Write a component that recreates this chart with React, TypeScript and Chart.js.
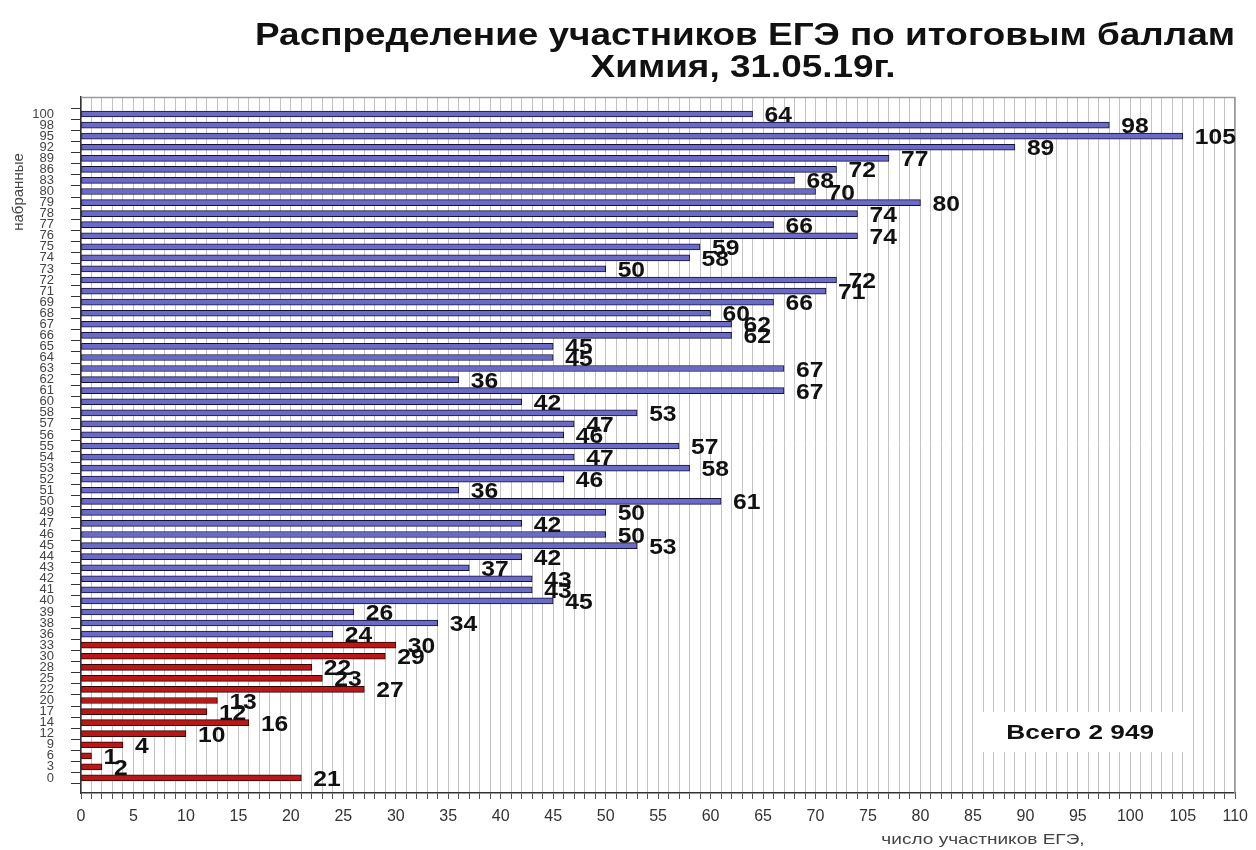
import React, { useEffect, useRef } from 'react';
import { Chart, registerables } from 'chart.js';

Chart.register(...registerables);

const titleLines = ['Распределение участников ЕГЭ по итоговым баллам', 'Химия, 31.05.19г.'];
const yAxisTitle = 'набранные';
const xAxisTitle = 'число участников ЕГЭ,';
const totalLabel = 'Всего';

// test scores, top to bottom
const scores = [
  100, 98, 95, 92, 89, 86, 83, 80, 79, 78, 77, 76, 75, 74, 73, 72, 71,
  69, 68, 67, 66, 65, 64, 63, 62, 61, 60,
  58, 57, 56, 55, 54, 53, 52, 51, 50, 49,
  47, 46, 45, 44, 43, 42, 41, 40, 39, 38, 36,
  33, 30, 28, 25, 22, 20, 17, 14, 12, 9, 6, 3, 0,
];

// number of participants per score, top to bottom
const counts = [
  64, 98, 105, 89, 77, 72, 68, 70, 80, 74, 66, 74, 59, 58, 50, 72, 71,
  66, 60, 62, 62, 45, 45, 67, 36, 67, 42,
  53, 47, 46, 57, 47, 58, 46, 36, 61, 50,
  42, 50, 53, 42, 37, 43, 43, 45, 26, 34, 24,
  30, 29, 22, 23, 27, 13, 12, 16, 10, 4, 1, 2, 21,
];

const passingScore = 36;
const xMin = 0;
const xMax = 110;
const xLabelStep = 5;

const FONT = "'Liberation Sans', Arial, Helvetica, sans-serif";

function stretchedText(ctx: any, text: string, x: number, y: number, sx: number) {
  ctx.save();
  ctx.translate(x, y);
  ctx.scale(sx, 1);
  ctx.fillText(text, 0, 0);
  ctx.restore();
}

export default function App() {
  const ref = useRef<HTMLCanvasElement>(null);

  useEffect(() => {
    const canvas = ref.current;
    if (!canvas) return;
    const total = counts.reduce((a, b) => a + b, 0);
    const totalText = `${totalLabel} ${String(total).replace(/\B(?=(\d{3})+(?!\d))/g, ' ')}`;

    const decor = {
      id: 'decor',
      beforeDatasetsDraw(chart: any) {
        const { ctx, chartArea: a } = chart;
        ctx.save();
        ctx.strokeStyle = '#9a9a9a';
        ctx.lineWidth = 1.5;
        ctx.beginPath();
        ctx.moveTo(a.left, a.top + 0.5);
        ctx.lineTo(a.right - 0.5, a.top + 0.5);
        ctx.lineTo(a.right - 0.5, a.bottom);
        ctx.stroke();
        ctx.restore();
      },
      afterDatasetsDraw(chart: any) {
        const { ctx, chartArea: a } = chart;
        const meta = chart.getDatasetMeta(0);
        ctx.save();
        ctx.font = `bold 22px ${FONT}`;
        ctx.fillStyle = '#111';
        ctx.textBaseline = 'middle';
        ctx.textAlign = 'left';
        meta.data.forEach((el: any, i: number) => {
          stretchedText(ctx, String(counts[i]), el.x + 12, el.y + 2, 1.12);
        });
        // total box
        const bx = a.right - 262;
        const by = a.bottom - 81;
        ctx.fillStyle = '#ffffff';
        ctx.fillRect(bx, by, 214, 40);
        ctx.fillStyle = '#111';
        ctx.font = `bold 21px ${FONT}`;
        ctx.textAlign = 'center';
        stretchedText(ctx, totalText, bx + 107, by + 21, 1.25);
        ctx.restore();
      },
      afterDraw(chart: any) {
        const { ctx } = chart;
        ctx.save();
        ctx.fillStyle = '#111';
        ctx.textAlign = 'center';
        ctx.textBaseline = 'middle';
        ctx.font = `bold 31px ${FONT}`;
        stretchedText(ctx, titleLines[0], 745, 36, 1.19);
        stretchedText(ctx, titleLines[1], 743, 68, 1.19);

        ctx.font = `15px ${FONT}`;
        ctx.fillStyle = '#444';
        stretchedText(ctx, xAxisTitle, 983, 840, 1.27);

        ctx.translate(19, 192);
        ctx.rotate(-Math.PI / 2);
        ctx.fillText(yAxisTitle, 0, 0);
        ctx.restore();
      },
    };

    const chart = new Chart(canvas, {
      type: 'bar',
      data: {
        datasets: [
          {
            data: counts.map((c, i) => ({ x: c, y: i })) as any,
            backgroundColor: scores.map((s) => (s < passingScore ? '#b81818' : '#6b6bc6')),
            borderColor: scores.map((s) => (s < passingScore ? '#350000' : '#10103a')),
            borderWidth: 1,
            borderSkipped: false,
            barThickness: 6,
          },
        ],
      },
      options: {
        indexAxis: 'y',
        responsive: false,
        animation: false,
        layout: { padding: { top: 97, right: 16, bottom: 24, left: 0 } },
        plugins: {
          legend: { display: false },
          tooltip: { enabled: false },
          title: { display: false },
        },
        scales: {
          x: {
            type: 'linear',
            min: xMin,
            max: xMax,
            offset: false,
            afterBuildTicks: (axis: any) => {
              const t = [];
              for (let v = xMin; v <= xMax; v++) t.push({ value: v });
              axis.ticks = t;
            },
            afterFit: (axis: any) => {
              axis.height = 33;
            },
            grid: {
              color: '#c4c4c4',
              lineWidth: 1,
              drawTicks: true,
              tickLength: 6,
              tickColor: '#555',
              offset: false,
            },
            border: { color: '#333', width: 1.5 },
            ticks: {
              autoSkip: false,
              maxRotation: 0,
              minRotation: 0,
              padding: 8,
              color: '#333',
              font: { size: 16, family: FONT },
              callback: (v: any) => (Number(v) % xLabelStep === 0 ? String(v) : ''),
            },
          },
          y: {
            type: 'linear',
            reverse: true,
            offset: false,
            min: -1.54,
            max: scores.length - 1 + 1.36,
            afterBuildTicks: (axis: any) => {
              axis.ticks = scores.map((_, i) => ({ value: i }));
            },
            afterFit: (axis: any) => {
              axis.width = 81;
            },
            grid: {
              offset: true,
              drawOnChartArea: false,
              drawTicks: true,
              tickLength: 10,
              tickColor: '#333',
            },
            border: { color: '#333', width: 1.5 },
            ticks: {
              autoSkip: false,
              padding: 17,
              color: '#444',
              font: { size: 13, family: FONT },
              callback: (v: any) => {
                const s = scores[Math.round(Number(v))];
                return s === undefined ? '' : String(s);
              },
            },
          },
        },
      },
      plugins: [decor],
    } as any);

    return () => chart.destroy();
  }, []);

  return (
    <div style={{ position: 'fixed', left: 0, top: 0, width: 1256, height: 850, background: '#fff' }}>
      <canvas ref={ref} width={1256} height={850} style={{ display: 'block' }} />
    </div>
  );
}
